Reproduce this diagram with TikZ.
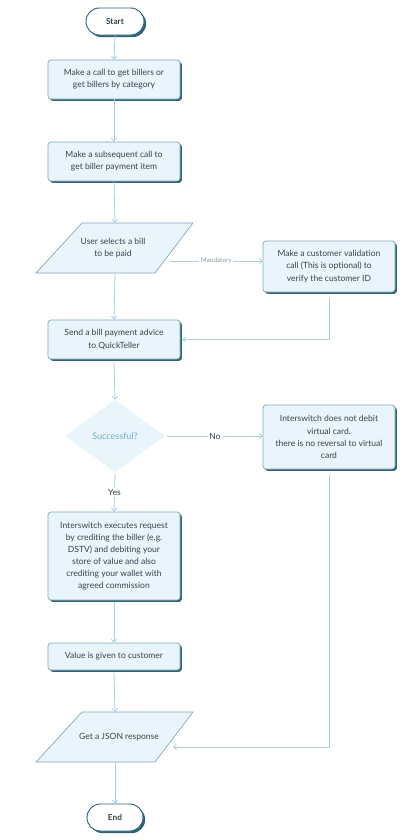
\documentclass[tikz,border=0pt]{standalone}
\usepackage{fontspec}
\setmainfont{Lato}
\usetikzlibrary{arrows.meta,shapes.geometric,shadows}
\definecolor{fillc}{HTML}{EAF5FB}
\definecolor{borderc}{HTML}{7FA6B8}
\definecolor{shadowc}{HTML}{2F6378}
\definecolor{linec}{HTML}{A8CEDF}
\definecolor{textc}{HTML}{34444C}
\definecolor{diatext}{HTML}{74ADC7}
\definecolor{labelc}{HTML}{8E9AA0}
\tikzset{
  x=0.75pt, y=-0.75pt,
  every node/.style={font=\fontsize{6.4}{9.1}\selectfont, text=textc},
  procbox/.style={rectangle, rounded corners=2.2pt, draw=borderc, line width=0.5pt, fill=fillc,
    align=center, inner sep=1pt, minimum width=99pt,
    drop shadow={shadow xshift=1.4pt, shadow yshift=-1.4pt, fill=shadowc, opacity=1}},
  termbox/.style={rectangle, rounded corners=10pt, draw=shadowc, line width=0.7pt, fill=white,
    inner sep=1pt, font=\fontsize{6.2}{9}\selectfont\bfseries,
    drop shadow={shadow xshift=1.6pt, shadow yshift=-1.6pt, fill=shadowc, opacity=1}},
  iobox/.style={draw=borderc, line width=0.5pt, fill=fillc},
  ghost/.style={rectangle, inner sep=0pt, align=center},
  decbox/.style={diamond, fill=fillc, inner sep=0pt, minimum width=75pt, minimum height=54pt,
    aspect=1.39, text=diatext, font=\fontsize{6.8}{9}\selectfont},
  conn/.style={draw=linec, line width=0.6pt, -{Straight Barb[length=2.2pt,width=4pt]}},
  lbl/.style={fill=white, inner sep=1.2pt},
}
\begin{document}
\begin{tikzpicture}
\useasboundingbox (0,0) rectangle (419,840);
% terminals
\node[termbox, minimum width=43.5pt, minimum height=20.25pt] (start) at (115,21.5) {Start};
\node[termbox, minimum width=42pt, minimum height=20.25pt] (end) at (115,817.5) {End};
% process boxes
\node[procbox, minimum height=29.25pt] (b1) at (114,79.5) {Make a call to get billers or\\get billers by category};
\node[procbox, minimum height=29.25pt] (b2) at (114,161.5) {Make a subsequent call to\\get biller payment item};
\node[procbox, minimum height=38.25pt] (val) at (329,266.5) {Make a customer validation\\call (This is optional) to\\verify the customer ID};
\node[procbox, minimum height=29.25pt] (b3) at (114,339.5) {Send a bill payment advice\\to QuickTeller};
\node[procbox, minimum height=48pt] (isw) at (329,437) {Interswitch does not debit\\virtual card.\\there is no reversal to virtual\\card};
\node[procbox, minimum height=66pt] (b4) at (114,556) {Interswitch executes request\\by crediting the biller (e.g.\\DSTV) and debiting your\\store of value and also\\crediting your wallet with\\agreed commission};
\node[procbox, minimum height=20.25pt] (b5) at (114,656.5) {Value is given to customer};
% parallelograms
\draw[iobox] (82,223) -- (193,223) -- (155,273) -- (36,273) -- cycle;
\node[ghost, minimum width=82pt, minimum height=37.5pt] (p1) at (113,248) {User selects a bill\\to be paid};
\draw[iobox] (82,712) -- (193,712) -- (155,762) -- (36,762) -- cycle;
\node[ghost, minimum width=82pt, minimum height=37.5pt] (p2) at (119,737) {Get a JSON response};
% decision
\node[decbox] (dia) at (115,436) {Successful?};
% coordinates
\coordinate (m1) at (170,261);
\coordinate (j1) at (173,747);
\coordinate (vb) at (329,298);
\coordinate (ib) at (329,475);
\coordinate (p1t) at (115,223);
\coordinate (p1b) at (115,273);
\coordinate (p2t) at (115,712);
\coordinate (p2b) at (115,762);
% connectors
\draw[conn] (start.south) -- (b1.north);
\draw[conn] (b1.south) -- (b2.north);
\draw[conn] (b2.south) -- (p1t);
\draw[conn] (p1b) -- (b3.north);
\draw[conn] (m1) -- node[lbl, font=\fontsize{4.8}{6}\selectfont, text=labelc] {Mandatory} (val.west |- m1);
\draw[conn] (vb) |- ([xshift=1.5pt]b3.east);
\draw[conn] ([yshift=-1.5pt]b3.south) -- (dia.north);
\draw[conn] ([xshift=1.5pt]dia.east) -- node[lbl] {No} (isw.west |- dia.east);
\draw[conn] ([yshift=-1pt]dia.south) -- node[lbl] {Yes} (b4.north);
\draw[conn] ([yshift=-1.5pt]b4.south) -- (b5.north);
\draw[conn] ([yshift=-1.5pt]b5.south) -- (p2t);
\draw[conn] (ib) |- (j1);
\draw[conn] (p2b) -- (end.north);
\end{tikzpicture}
\end{document}
